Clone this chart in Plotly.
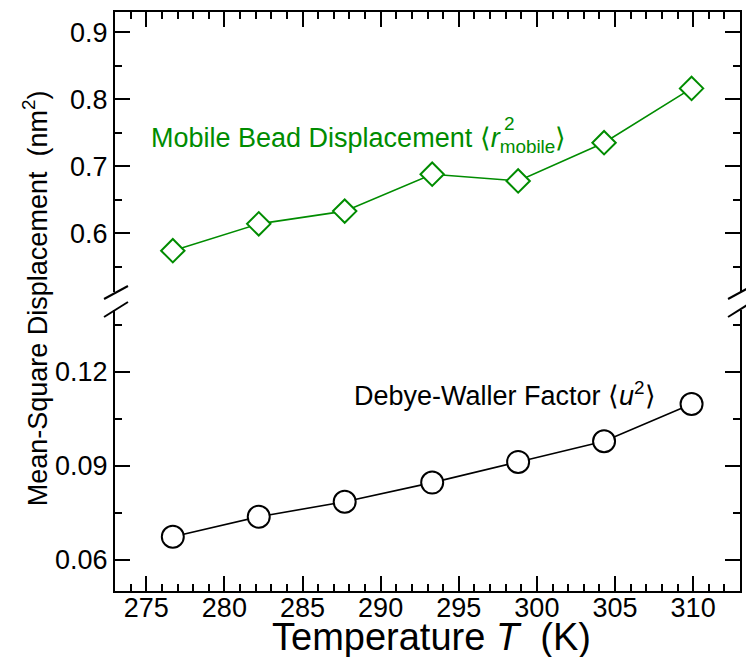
import plotly.graph_objects as go

# Temperatures (K)
temperature = [276.7, 282.2, 287.7, 293.3, 298.8, 304.3, 309.9]
# Mobile bead mean-square displacement <r^2_mobile> (nm^2)
r2_mobile = [0.574, 0.614, 0.633, 0.688, 0.678, 0.735, 0.816]
# Debye-Waller factor <u^2> (nm^2)
u2 = [0.0673, 0.0737, 0.0785, 0.0846, 0.0912, 0.0978, 0.1097]

GREEN = "rgb(0,140,0)"
FONT = "Liberation Sans, Arial, Helvetica, sans-serif"

W, H = 746, 657
ML, MR, MT, MB = 115, 4, 12, 66
PW, PH = W - ML - MR, H - MT - MB


def px(x):
    return (x - ML) / PW


def py(y):
    return (H - MB - y) / PH


fig = go.Figure()

fig.add_trace(go.Scatter(
    x=temperature, y=u2, xaxis="x", yaxis="y",
    mode="lines+markers",
    line=dict(color="black", width=1.6),
    marker=dict(symbol="circle", size=22, color="white",
                line=dict(color="black", width=2)),
    showlegend=False,
))
fig.add_trace(go.Scatter(
    x=temperature, y=r2_mobile, xaxis="x2", yaxis="y2",
    mode="lines+markers",
    line=dict(color=GREEN, width=1.6),
    marker=dict(symbol="diamond", size=18, color="white",
                line=dict(color=GREEN, width=2)),
    showlegend=False,
))

axis_common = dict(
    showline=True, linecolor="black", linewidth=2,
    ticks="inside", ticklen=15, tickwidth=2, tickcolor="black",
    showgrid=False, zeroline=False,
    tickfont=dict(family=FONT, size=27, color="black"),
)
minor_common = dict(ticklen=7, tickwidth=2, ticks="inside", tickcolor="black")

bottom_dom = [0, py(310)]
top_dom = [py(292), 1]

fig.update_layout(
    width=W, height=H,
    margin=dict(l=ML, r=MR, t=MT, b=MB),
    paper_bgcolor="white", plot_bgcolor="white",
    xaxis=dict(
        **axis_common, range=[273, 313], dtick=5, tick0=275,
        anchor="y", side="bottom", mirror=False, ticklabelstandoff=-8,
        minor=dict(dtick=1, **minor_common),
    ),
    xaxis2=dict(
        **axis_common, range=[273, 313], dtick=5, tick0=275,
        anchor="y2", side="top", mirror=False, showticklabels=False,
        matches="x",
        minor=dict(dtick=1, **minor_common),
    ),
    yaxis=dict(
        **axis_common, domain=bottom_dom, range=[0.05, 0.1397],
        dtick=0.03, tick0=0.06, tickformat=".2f", mirror="ticks",
        anchor="x",
        minor=dict(dtick=0.015, **minor_common),
    ),
    yaxis2=dict(
        **axis_common, domain=top_dom, range=[0.5124, 0.9299],
        dtick=0.1, tick0=0.6, tickformat=".1f", mirror="ticks",
        anchor="x2",
        minor=dict(dtick=0.05, **minor_common),
    ),
)

# axis-break slashes on both spines
for xa, xb in [(104, 128), (730, 754)]:
    for ya, yb in [(299, 286), (317, 302)]:
        fig.add_shape(type="line", xref="paper", yref="paper",
                      x0=px(xa), y0=py(ya), x1=px(xb), y1=py(yb),
                      line=dict(color="black", width=2))

annotations = [
    # axis titles
    dict(text="Mean-Square Displacement  (nm<sup>2</sup>)",
         x=px(35), y=py(298), textangle=-90,
         font=dict(family=FONT, size=27, color="black")),
    dict(text="Temperature <i>T</i>  (K)",
         x=px(433), y=py(637),
         font=dict(family=FONT, size=38, color="black")),
    # series labels
    dict(text="Mobile Bead Displacement ⟨<i>r</i><sub>mobile</sub>⟩",
         x=px(149), y=py(140), xanchor="left",
         font=dict(family=FONT, size=27, color=GREEN)),
    dict(text="2", x=px(503), y=py(124), xanchor="left",
         font=dict(family=FONT, size=19, color=GREEN)),
    dict(text="Debye-Waller Factor ⟨<i>u</i><sup>2</sup>⟩",
         x=px(353), y=py(394), xanchor="left",
         font=dict(family=FONT, size=27, color="black")),
]
for a in annotations:
    a.setdefault("xanchor", "center")
    fig.add_annotation(xref="paper", yref="paper", showarrow=False,
                       yanchor="middle", **a)

fig.write_html("out.html")
